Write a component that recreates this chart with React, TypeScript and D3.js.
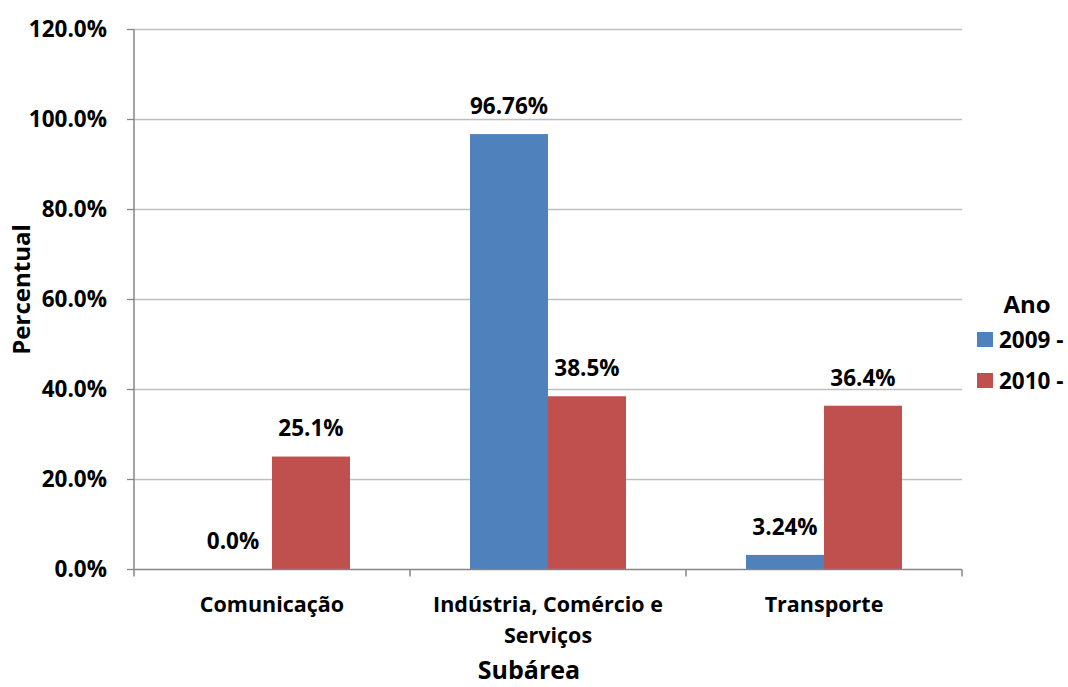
import React from "react";
import * as d3 from "d3";

const categories: string[][] = [["Comunicação"], ["Indústria, Comércio e", "Serviços"], ["Transporte"]];
const seriesNames = ["2009 -", "2010 -"];
const series2009 = [0.0, 96.76, 3.24];
const series2010 = [25.1, 38.5, 36.4];
const labels2009 = ["0.0%", "96.76%", "3.24%"];
const labels2010 = ["25.1%", "38.5%", "36.4%"];
const yTicks = [0, 20, 40, 60, 80, 100, 120];
const colors = ["#4f81bd", "#c0504d"];

const W = 1068, H = 687;
const M = { left: 134, right: 962, top: 29.5, bottom: 569.5 };
const FONT = "'Open Sans', 'Noto Sans', sans-serif";

export default function App() {
  const x0 = d3.scaleBand<number>().domain([0, 1, 2]).range([M.left, M.right]).paddingInner(0).paddingOuter(0);
  const bw0 = x0.bandwidth();
  const pad = bw0 * (60 / 276);
  const x1 = d3.scaleBand<number>().domain([0, 1]).range([pad, bw0 - pad]).paddingInner(0).paddingOuter(0);
  const y = d3.scaleLinear().domain([0, 120]).range([M.bottom, M.top]);
  const values = [series2009, series2010];
  const lbls = [labels2009, labels2010];

  return (
    <div style={{ position: "fixed", left: 0, top: 0, width: W, height: H, background: "#fff" }}>
      <svg width={W} height={H} style={{ display: "block", fontFamily: FONT }}>
        <rect width={W} height={H} fill="#fff" />
        {yTicks.map((t) => (
          <g key={t}>
            {t > 0 && <line x1={M.left} x2={M.right} y1={y(t)} y2={y(t)} stroke="#bfbfbf" strokeWidth={1.3} />}
            <line x1={M.left - 7} x2={M.left} y1={y(t)} y2={y(t)} stroke="#868686" strokeWidth={1.3} />
            <text x={107} y={y(t)} dy="0.35em" textAnchor="end" fontSize={22.5} fontWeight="bold" fill="#000">
              {t.toFixed(1) + "%"}
            </text>
          </g>
        ))}
        {values.map((vals, s) =>
          vals.map((v, i) => {
            const bx = (x0(i) as number) + (x1(s) as number);
            const bw = x1.bandwidth();
            return (
              <g key={s + "-" + i}>
                {v > 0 && <rect x={bx} y={y(v)} width={bw} height={y(0) - y(v)} fill={colors[s]} />}
                <text x={bx + bw / 2} y={y(v) - 28} dy="0.35em" textAnchor="middle" fontSize={22.5} fontWeight="bold" fill="#000">
                  {lbls[s][i]}
                </text>
              </g>
            );
          })
        )}
        <line x1={M.left} x2={M.left} y1={M.top} y2={M.bottom} stroke="#868686" strokeWidth={1.5} />
        <line x1={M.left} x2={M.right} y1={M.bottom} y2={M.bottom} stroke="#868686" strokeWidth={1.5} />
        {[0, 1, 2, 3].map((i) => {
          const xx = M.left + i * x0.step();
          return <line key={i} x1={xx} x2={xx} y1={M.bottom} y2={M.bottom + 7} stroke="#868686" strokeWidth={1.5} />;
        })}
        {categories.map((lines, i) => (
          <text key={i} textAnchor="middle" fontSize={21.5} fontWeight="bold" fill="#000">
            {lines.map((ln, k) => (
              <tspan key={k} x={(x0(i) as number) + x0.bandwidth() / 2} y={604 + k * 31} dy="0.35em">
                {ln}
              </tspan>
            ))}
          </text>
        ))}
        <text x={(M.left + M.right) / 2 - 19} y={670} dy="0.35em" textAnchor="middle" fontSize={25} fontWeight="bold" fill="#000">
          Subárea
        </text>
        <text transform={`translate(22,${(M.top + M.bottom) / 2 - 10}) rotate(-90)`} dy="0.35em" textAnchor="middle" fontSize={24} fontWeight="bold" fill="#000">
          Percentual
        </text>
        <text x={1027} y={305} dy="0.35em" textAnchor="middle" fontSize={24} fontWeight="bold" fill="#000">
          Ano
        </text>
        {seriesNames.map((n, s) => (
          <g key={n}>
            <rect x={977} y={332 + s * 41} width={16} height={15} fill={colors[s]} />
            <text x={999} y={340 + s * 41} dy="0.35em" fontSize={22.5} fontWeight="bold" fill="#000">
              {n}
            </text>
          </g>
        ))}
      </svg>
    </div>
  );
}
